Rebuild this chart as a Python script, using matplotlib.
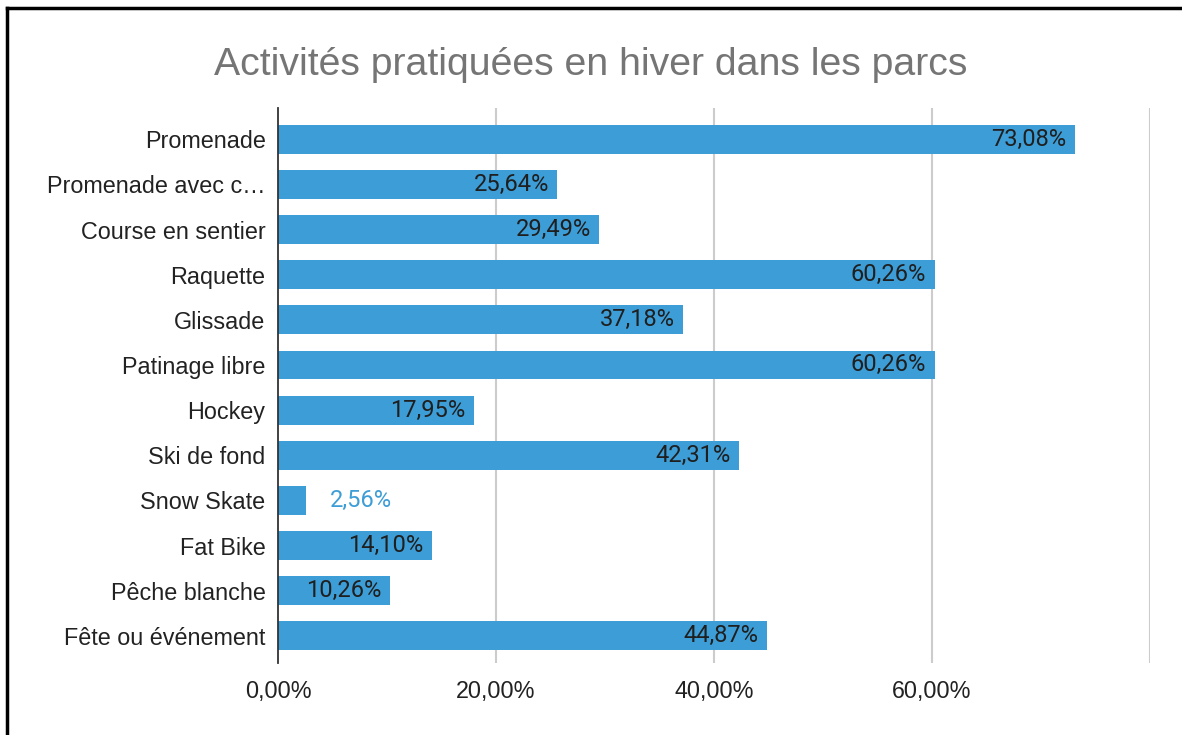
import matplotlib
matplotlib.use("Agg")
import matplotlib.pyplot as plt
from matplotlib.lines import Line2D

plt.rcParams['font.family'] = ['Liberation Sans', 'DejaVu Sans']

categories = ["Promenade", "Promenade avec c\u2026", "Course en sentier", "Raquette",
              "Glissade", "Patinage libre", "Hockey", "Ski de fond", "Snow Skate",
              "Fat Bike", "P\u00eache blanche", "F\u00eate ou \u00e9v\u00e9nement"]
values = [73.08, 25.64, 29.49, 60.26, 37.18, 60.26, 17.95, 42.31, 2.56, 14.10, 10.26, 44.87]
xticks = [0, 20, 40, 60]
xtick_labels = ["0,00%", "20,00%", "40,00%", "60,00%"]

blue = "#3d9dd6"

fig = plt.figure(figsize=(11.82, 7.35), dpi=100)
ax = fig.add_axes([0.2352, 0.098, 0.9729 - 0.2352, 0.853 - 0.098])

pos = list(range(len(categories)))
ax.barh(pos, values, height=0.64, color=blue, zorder=3)

# data labels use Roboto, axis text uses Arial-like font
for p, v in zip(pos, values):
    txt = f"{v:.2f}".replace(".", ",") + "%"
    if v > 8:
        ax.text(v - 0.8, p, txt, ha="right", va="center", fontsize=17,
                color="#1f1f1f", zorder=4, family=["Roboto", "DejaVu Sans"])
    else:
        ax.text(v + 2.2, p, txt, ha="left", va="center", fontsize=17,
                color=blue, zorder=4, family=["Roboto", "DejaVu Sans"])

ax.set_xlim(0, 80)
ax.set_ylim(11.6, -0.69)
ax.set_yticks(pos)
ax.set_yticklabels(categories, fontsize=16.8, color="#222222")
ax.set_xticks(xticks)
ax.set_xticklabels(xtick_labels, fontsize=16.8, color="#222222")
ax.tick_params(axis="y", length=0, pad=9)
ax.tick_params(axis="x", length=0, pad=12)

for g in [20, 40, 60, 80]:
    ax.axvline(g, color="#cccccc", lw=1.5, zorder=1)

for s in ["top", "right", "bottom"]:
    ax.spines[s].set_visible(False)
ax.spines["left"].set_color("#333333")
ax.spines["left"].set_linewidth(1.3)
ax.spines["left"].set_zorder(5)

fig.text(0.5, 0.911, "Activit\u00e9s pratiqu\u00e9es en hiver dans les parcs",
         ha="center", va="center", fontsize=28.3, color="#757575")

# frame of the screenshot (left and top edges)
fig.add_artist(Line2D([7 / 1182, 7 / 1182], [0, 1 - 8 / 735], color="black", lw=2.5,
                      transform=fig.transFigure))
fig.add_artist(Line2D([7 / 1182, 1], [1 - 8 / 735, 1 - 8 / 735], color="black", lw=2.5,
                      transform=fig.transFigure))

fig.savefig("out.png", dpi=100)
